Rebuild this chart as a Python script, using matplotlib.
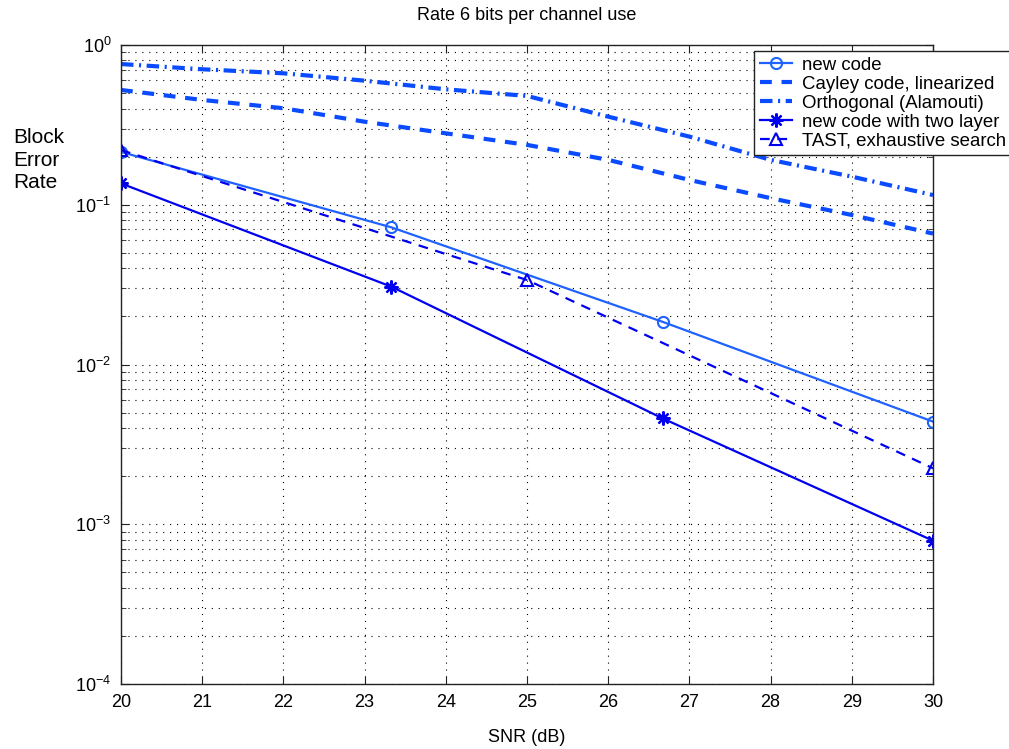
import numpy as np
import matplotlib
matplotlib.use('Agg')
import matplotlib.pyplot as plt
from matplotlib.ticker import FixedLocator, LogLocator, NullFormatter

plt.rcParams['font.family'] = ['Liberation Sans', 'DejaVu Sans']
plt.rcParams['mathtext.fontset'] = 'custom'
plt.rcParams['mathtext.rm'] = 'Liberation Sans'
plt.rcParams['mathtext.default'] = 'regular'
plt.rcParams['lines.scale_dashes'] = False

# data
snr_new = [20, 23.33, 26.67, 30]
ber_new = [0.214, 0.0722, 0.0185, 0.00439]

snr_full = [20, 21, 22, 23, 24, 25, 26, 27, 28, 29, 30]
ber_cayley = [0.523, 0.453, 0.402, 0.331, 0.280, 0.237, 0.191, 0.143, 0.110, 0.0863, 0.066]
ber_orth = [0.760, 0.705, 0.665, 0.598, 0.528, 0.480, 0.356, 0.267, 0.191, 0.150, 0.115]

snr_two = [20, 23.33, 26.67, 30]
ber_two = [0.136, 0.0307, 0.0046, 0.000789]

snr_tast = [20, 25, 30]
ber_tast = [0.220, 0.0338, 0.00224]

labels = ['new code', 'Cayley code, linearized', 'Orthogonal (Alamouti)',
          'new code with two layer', 'TAST, exhaustive search']
x_ticks = list(range(20, 31))

light = '#1f62ff'
mid = '#0a4bff'
dark = '#0000f0'

fig = plt.figure(figsize=(10.09, 7.49), dpi=100)
ax = fig.add_axes([121/1009, 1-684/749, (933-121)/1009, (684-45)/749])

ax.plot(snr_new, ber_new, color=light, lw=1.6, marker='o', ms=8, mfc='none',
        mew=1.5, label=labels[0])
ax.plot(snr_full, ber_cayley, color=mid, lw=3.0, ls=(0, (8.5, 7)),
        label=labels[1])
ax.plot(snr_full, ber_orth, color=mid, lw=3.0, ls=(0, (9, 4, 1.5, 4)),
        label=labels[2])
ax.plot(snr_two, ber_two, color=dark, lw=1.6, marker=(8, 2, 0), ms=10,
        mew=1.6, label=labels[3])
ax.plot(snr_tast, ber_tast, color=dark, lw=1.6, ls=(0, (7, 5.5)), marker='^',
        ms=9, mfc='none', mew=1.5, label=labels[4])

ax.set_yscale('log')
ax.set_xlim(20, 30)
ax.set_ylim(1e-4, 1)
ax.xaxis.set_major_locator(FixedLocator(x_ticks))
ax.yaxis.set_minor_locator(LogLocator(base=10, subs=np.arange(2, 10), numticks=10))
ax.yaxis.set_minor_formatter(NullFormatter())
ax.set_yticks([1e-4, 1e-3, 1e-2, 1e-1, 1])
ax.set_yticklabels(['$10^{-4}$', '$10^{-3}$', '$10^{-2}$', '$10^{-1}$', '$10^{0}$'])
ax.set_xticklabels([str(v) for v in x_ticks])

ax.tick_params(which='both', direction='in', top=True, right=True,
               labelsize=13, color='#222222')
ax.tick_params(which='major', length=6, pad=7)
ax.tick_params(which='minor', length=3.5)
for s in ax.spines.values():
    s.set_linewidth(1.0)
    s.set_color('#222222')

grid_ls = (0, (0.8, 4.2))
ax.grid(True, which='major', axis='both', color='black', lw=0.8, ls=grid_ls)
ax.grid(True, which='minor', axis='y', color='black', lw=0.8, ls=grid_ls)

fig.text(527/1009, 1-15/749, 'Rate 6 bits per channel use', ha='center',
         va='center', fontsize=13)
fig.text(527/1009, 1-738/749, 'SNR (dB)', ha='center', va='center', fontsize=13)
fig.text(13/1009, 1-160/749, 'Block\nError\nRate', ha='left', va='center',
         fontsize=15, linespacing=1.25)

leg = ax.legend(loc='upper left', bbox_to_anchor=(754/1009, 1-51/749),
                bbox_transform=fig.transFigure, fontsize=13.4, frameon=True,
                fancybox=False, framealpha=1, edgecolor='#222222',
                handlelength=1.75, handletextpad=0.55, borderpad=0.3,
                labelspacing=0.11, borderaxespad=0)
leg.get_frame().set_linewidth(1.0)

fig.savefig('out.png', dpi=100)
